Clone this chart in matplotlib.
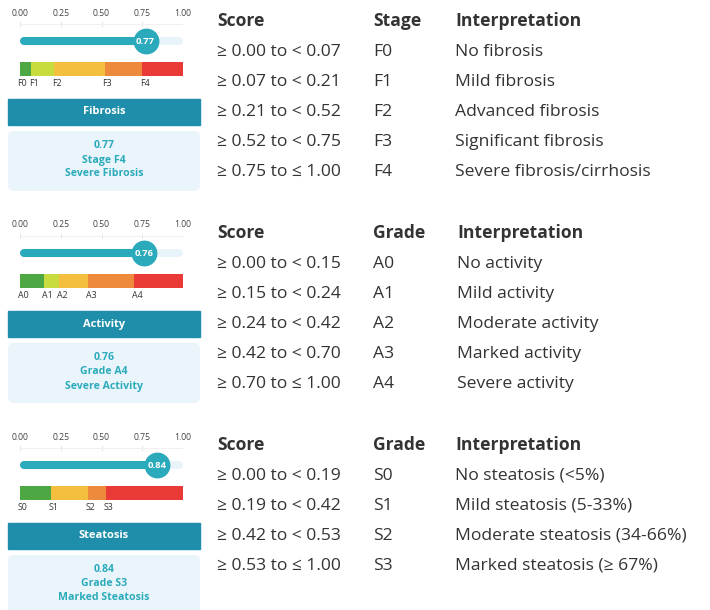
import matplotlib
matplotlib.use("Agg")
import matplotlib.pyplot as plt
from matplotlib.patches import Rectangle, FancyBboxPatch

plt.rcParams['font.family'] = ['Open Sans', 'DejaVu Sans']

# ---- data ----
fib_title = 'Fibrosis'
fib_value = 0.77
fib_stage = 'Stage F4'
fib_desc = 'Severe Fibrosis'
fib_col = 'Stage'
fib_labels = ['F0', 'F1', 'F2', 'F3', 'F4']
fib_bounds = [0.00, 0.07, 0.21, 0.52, 0.75, 1.00]
fib_interp = ['No fibrosis', 'Mild fibrosis', 'Advanced fibrosis',
              'Significant fibrosis', 'Severe fibrosis/cirrhosis']

act_title = 'Activity'
act_value = 0.76
act_stage = 'Grade A4'
act_desc = 'Severe Activity'
act_col = 'Grade'
act_labels = ['A0', 'A1', 'A2', 'A3', 'A4']
act_bounds = [0.00, 0.15, 0.24, 0.42, 0.70, 1.00]
act_interp = ['No activity', 'Mild activity', 'Moderate activity',
              'Marked activity', 'Severe activity']

ste_title = 'Steatosis'
ste_value = 0.84
ste_stage = 'Grade S3'
ste_desc = 'Marked Steatosis'
ste_col = 'Grade'
ste_labels = ['S0', 'S1', 'S2', 'S3']
ste_bounds = [0.00, 0.19, 0.42, 0.53, 1.00]
ste_interp = ['No steatosis (<5%)', 'Mild steatosis (5-33%)',
              'Moderate steatosis (34-66%)', 'Marked steatosis (\u2265 67%)']

tick_vals = [0.00, 0.25, 0.50, 0.75, 1.00]

# colours
TEAL = '#2aaabb'
HEAD = '#1e8eaa'
LIGHT = '#eaf5fb'
TRACK = '#e9f4fa'
DARK = '#333333'
col5 = ['#4da843', '#c9dc3e', '#f4bf3f', '#ee8a3c', '#ea3a37']
col4 = ['#4da843', '#f4bf3f', '#ee8a3c', '#ea3a37']

W, H = 710, 610
fig = plt.figure(figsize=(W / 100, H / 100), dpi=100)
fig.patch.set_facecolor('white')

bg = fig.add_axes([0, 0, 1, 1])
bg.set_xlim(0, W)
bg.set_ylim(H, 0)
bg.axis('off')


def px_axes(x, y, w, h):
    return fig.add_axes([x / W, 1 - (y + h) / H, w / W, h / H])


def draw_panel(oy, title, value, stage, desc, labels, bounds, colors,
               colname, interp, interp_x):
    # gauge axes: x in score units, y in pixels
    ax = px_axes(20, oy, 163, 95)
    ax.set_xlim(0, 1)
    ax.set_ylim(95, 0)
    ax.axis('off')

    for t in tick_vals:
        ax.text(t, 13, f'{t:.2f}', ha='center', va='center', fontsize=6.2,
                color='#444444')
        ax.plot([t, t], [22, 26], color='#dddddd', lw=0.6)
    ax.plot([0, 1], [24, 24], color='#eeeeee', lw=0.6)

    r = 4 / 163
    ax.plot([r, 1 - r], [41, 41], color=TRACK, lw=5.8, solid_capstyle='round')
    ax.plot([r, value], [41, 41], color=TEAL, lw=5.8, solid_capstyle='round')
    ax.scatter([value], [41], s=310, color=TEAL, zorder=5)
    ax.text(value, 41.5, f'{value:.2f}', ha='center', va='center',
            fontsize=6.8, color='white', fontweight='bold', zorder=6)

    lefts = bounds[:-1]
    widths = [b - a for a, b in zip(bounds[:-1], bounds[1:])]
    ax.barh([69] * len(lefts), widths, left=lefts, height=14, color=colors)
    for lab, b in zip(labels, lefts):
        ax.text(b - 0.015, 83, lab, ha='left', va='center', fontsize=6.4,
                color='#333333')

    # title band and info card
    bg.add_patch(Rectangle((8, oy + 99), 192, 26, color=HEAD))
    bg.text(104, oy + 112, title, ha='center', va='center', fontsize=8,
            color='white', fontweight='bold')
    bg.add_patch(FancyBboxPatch((11, oy + 134), 186, 54,
                                boxstyle='round,pad=3,rounding_size=6',
                                color=LIGHT, lw=0))
    for dy, s in zip([146, 160, 174], [f'{value:.2f}', stage, desc]):
        bg.text(104, oy + dy, s, ha='center', va='center', fontsize=7.6,
                color=TEAL, fontweight='bold')

    # table
    fs = 12.6
    bg.text(217, oy + 21, 'Score', ha='left', va='center', fontsize=fs,
            color=DARK, fontweight='bold')
    bg.text(373, oy + 21, colname, ha='left', va='center', fontsize=fs,
            color=DARK, fontweight='bold')
    bg.text(interp_x, oy + 21, 'Interpretation', ha='left', va='center',
            fontsize=fs, color=DARK, fontweight='bold')
    n = len(labels)
    for i in range(n):
        hi = '\u2264' if i == n - 1 else '<'
        score = f'\u2265 {bounds[i]:.2f} to {hi} {bounds[i + 1]:.2f}'
        y = oy + 52 + 30 * i
        bg.text(217, y, score, ha='left', va='center', fontsize=fs, color=DARK)
        bg.text(373, y, labels[i], ha='left', va='center', fontsize=fs,
                color=DARK)
        bg.text(interp_x, y, interp[i], ha='left', va='center', fontsize=fs,
                color=DARK)


draw_panel(0, fib_title, fib_value, fib_stage, fib_desc, fib_labels,
           fib_bounds, col5, fib_col, fib_interp, 455)
draw_panel(212, act_title, act_value, act_stage, act_desc, act_labels,
           act_bounds, col5, act_col, act_interp, 457)
draw_panel(424, ste_title, ste_value, ste_stage, ste_desc, ste_labels,
           ste_bounds, col4, ste_col, ste_interp, 455)

fig.savefig('out.png', dpi=100, facecolor='white')
